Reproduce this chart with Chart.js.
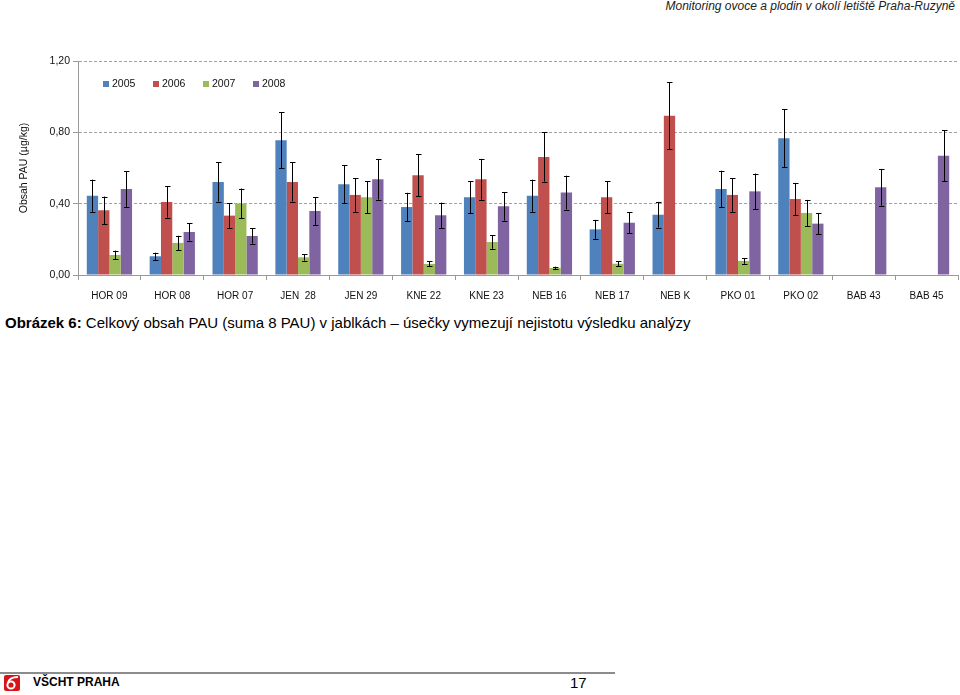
<!DOCTYPE html>
<html>
<head>
<meta charset="utf-8">
<script src="https://cdn.jsdelivr.net/npm/chart.js@4/dist/chart.umd.min.js"></script>
<style>
  html, body { margin: 0; padding: 0; background: #fff; }
  body { width: 960px; height: 695px; position: relative; overflow: hidden; font-family: "Liberation Sans", Arial, sans-serif; color: #000; }
  #hdr { position: absolute; right: 5px; top: -1px; font-size: 12px; font-style: italic; color: #222; }
  #box { position: absolute; left: 0; top: 50px; width: 960px; height: 260px; }
  #cap { position: absolute; left: 5px; top: 314px; font-size: 15px; white-space: nowrap; }
  #line { position: absolute; left: 0; top: 672px; width: 615px; height: 2px; background: #8c8c8c; }
  #logo { position: absolute; left: 4px; top: 675px; }
  #inst { position: absolute; left: 33px; top: 675px; font-size: 12px; font-weight: bold; }
  #pg { position: absolute; left: 570px; top: 674px; font-size: 15px; }
</style>
</head>
<body>
<div id="hdr">Monitoring ovoce a plodin v okolí letiště Praha-Ruzyně</div>
<div id="box"><canvas id="grafPau"></canvas></div>
<div id="cap"><b>Obrázek 6:</b> Celkový obsah PAU (suma 8 PAU) v jablkách – úsečky vymezují nejistotu výsledku analýzy</div>
<div id="line"></div>
<svg id="logo" width="16" height="16" viewBox="0 0 16 16">
  <rect x="0" y="0" width="16" height="16" rx="2" fill="#d7141a"/>
  <circle cx="7" cy="10" r="3.6" fill="none" stroke="#fff" stroke-width="2"/>
  <path d="M4 8 C5 3 9 2 14 2" fill="none" stroke="#fff" stroke-width="1.8"/>
</svg>
<div id="inst">VŠCHT PRAHA</div>
<div id="pg">17</div>

<script>
var kategorie = ['HOR 09', 'HOR 08', 'HOR 07', 'JEN  28', 'JEN 29', 'KNE 22', 'KNE 23', 'NEB 16', 'NEB 17', 'NEB K', 'PKO 01', 'PKO 02', 'BAB 43', 'BAB 45'];
var roky = ['2005', '2006', '2007', '2008'];
var barvy = ['#4f81bd', '#c0504d', '#9bbb59', '#8064a2'];

// hodnoty (ug/kg) a nejistoty
var h2005 = [0.445, 0.105, 0.522, 0.755, 0.509, 0.381, 0.436, 0.445, 0.256, 0.338, 0.482, 0.767, null, null];
var n2005 = [0.090, 0.020, 0.110, 0.157, 0.107, 0.080, 0.090, 0.090, 0.053, 0.072, 0.103, 0.163, null, null];
var h2006 = [0.363, 0.410, 0.333, 0.522, 0.449, 0.559, 0.537, 0.662, 0.436, 0.893, 0.449, 0.426, null, null];
var n2006 = [0.077, 0.088, 0.070, 0.110, 0.094, 0.117, 0.114, 0.138, 0.090, 0.187, 0.094, 0.090, null, null];
var h2007 = [0.112, 0.180, 0.402, 0.099, 0.436, 0.062, 0.185, 0.039, 0.063, null, 0.079, 0.348, null, null];
var n2007 = [0.025, 0.040, 0.083, 0.018, 0.090, 0.014, 0.038, 0.008, 0.014, null, 0.016, 0.073, null, null];
var h2008 = [0.482, 0.241, 0.219, 0.359, 0.537, 0.335, 0.385, 0.462, 0.293, null, 0.469, 0.288, 0.492, 0.669];
var n2008 = [0.100, 0.048, 0.043, 0.078, 0.114, 0.071, 0.080, 0.095, 0.060, null, 0.100, 0.060, 0.103, 0.143];

var yTicks = [0, 0.4, 0.8, 1.2];

var hodnoty = [h2005, h2006, h2007, h2008];
var nejistoty = [n2005, n2006, n2007, n2008];

// usecky nejistoty
var chybovePlugin = {
  id: 'chyby',
  afterDatasetsDraw: function(chart) {
    var ctx = chart.ctx;
    var y = chart.scales.y;
    ctx.save();
    ctx.strokeStyle = '#000';
    ctx.lineWidth = 1;
    chart.data.datasets.forEach(function(ds, i) {
      var meta = chart.getDatasetMeta(i);
      meta.data.forEach(function(bar, j) {
        var v = ds.data[j], e = nejistoty[i][j];
        if (v === null || e === null) return;
        var x = Math.round(bar.x) + 0.5;
        var y1 = y.getPixelForValue(v + e), y2 = y.getPixelForValue(v - e);
        ctx.beginPath();
        ctx.moveTo(x, y1); ctx.lineTo(x, y2);
        ctx.moveTo(x - 2.5, Math.round(y1) + 0.5); ctx.lineTo(x + 3, Math.round(y1) + 0.5);
        ctx.moveTo(x - 2.5, Math.round(y2) + 0.5); ctx.lineTo(x + 3, Math.round(y2) + 0.5);
        ctx.stroke();
      });
    });
    ctx.restore();
  }
};

// legenda uvnitr grafu
var legendaPlugin = {
  id: 'legenda',
  afterDraw: function(chart) {
    var ctx = chart.ctx;
    ctx.save();
    ctx.font = '10.5px "Liberation Sans", Arial, sans-serif';
    ctx.textBaseline = 'middle';
    chart.data.datasets.forEach(function(ds, i) {
      var x = 103 + i * 50, yy = 34;
      ctx.fillStyle = ds.backgroundColor;
      ctx.fillRect(x, yy - 3, 6, 6);
      ctx.fillStyle = '#111';
      ctx.fillText(ds.label, x + 9, yy + 0.5);
    });
    ctx.restore();
  }
};

var ctx = document.querySelector('#grafPau');
var myChart = new Chart(ctx, {
  type: 'bar',
  data: {
    labels: kategorie,
    datasets: roky.map(function(r, i) {
      return { label: r, data: hodnoty[i], backgroundColor: barvy[i], borderWidth: 0 };
    })
  },
  options: {
    responsive: true,
    maintainAspectRatio: false,
    animation: false,
    layout: { padding: { top: 11, right: 2, left: 0, bottom: 0 } },
    datasets: { bar: { categoryPercentage: 0.72, barPercentage: 1.0 } },
    plugins: { legend: { display: false }, tooltip: { enabled: false } },
    scales: {
      x: {
        afterFit: function(s) { s.height = 35; },
        grid: { display: true, drawOnChartArea: false, offset: true, tickLength: 5, color: '#9a9a9a' },
        border: { color: '#9a9a9a', width: 1 },
        ticks: { padding: 10, color: '#111', font: { family: '"Liberation Sans", Arial, sans-serif', size: 10 }, maxRotation: 0, autoSkip: false }
      },
      y: {
        min: 0, max: 1.2,
        afterFit: function(s) { s.width = 78; },
        afterBuildTicks: function(s) { s.ticks = yTicks.map(function(v) { return { value: v }; }); },
        grid: { color: '#a0a0a0', tickLength: 5, tickColor: '#9a9a9a', tickBorderDash: [] },
        border: { color: '#9a9a9a', width: 1, dash: [3, 2] },
        ticks: {
          padding: 3, color: '#111',
          font: { family: '"Liberation Sans", Arial, sans-serif', size: 10.5 },
          callback: function(v) { return v.toFixed(2).replace('.', ','); }
        },
        title: {
          display: true, text: 'Obsah PAU (µg/kg)', color: '#111',
          font: { family: '"Liberation Sans", Arial, sans-serif', size: 10.5 },
          padding: { top: 18, bottom: 0 }
        }
      }
    }
  },
  plugins: [chybovePlugin, legendaPlugin]
});
</script>
</body>
</html>
